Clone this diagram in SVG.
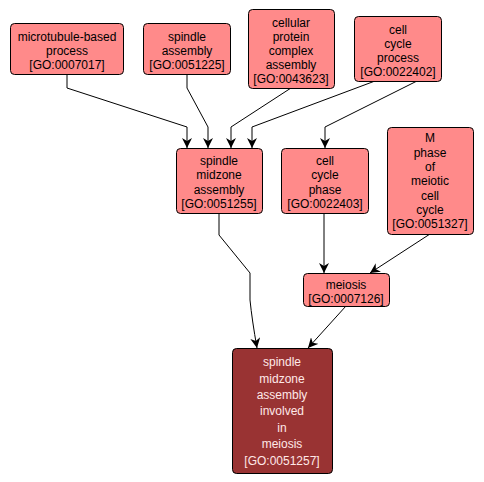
<svg xmlns="http://www.w3.org/2000/svg" width="484" height="482" viewBox="0 0 484 482">
<defs>
<style>
.n rect{fill:#ff8a8a;stroke:#000;stroke-width:1}
.n text{font-family:"Liberation Sans",Arial,sans-serif;font-size:12px;fill:#000;text-anchor:middle}
.f rect{fill:#993333;stroke:#000;stroke-width:1}
.f text{font-family:"Liberation Sans",Arial,sans-serif;font-size:12px;fill:#ffe8e8;text-anchor:middle}
.e path{fill:none;stroke:#000;stroke-width:1;marker-end:url(#a)}
</style>
<marker id="a" viewBox="0 0 10 10" refX="10" refY="5" markerWidth="10" markerHeight="10" markerUnits="userSpaceOnUse" orient="auto">
<path d="M0,0 L10,5 L0,10 L3,5 Z" fill="#000"/>
</marker>
</defs>
<rect width="484" height="482" fill="#fff"/>
<g id="connectors" class="e">
<path d="M67,74 V88 L187,127 V148"/>
<path d="M187,74 V88 L208,127 V148"/>
<path d="M291,88 L231,127 V148"/>
<path d="M375,81 L252,127 V148"/>
<path d="M417,81 L325,127 V148"/>
<path d="M324,213 V273"/>
<path d="M430,234 L370,273"/>
<path d="M219,213 V235 L250,273 V300 Q252,320 257,348"/>
<path d="M346,306 L308,348"/>
</g>
<g id="n0007017" class="n"><rect x="10.5" y="23.5" width="113" height="51" rx="4"/><text x="67" y="41">microtubule-based</text><text x="67" y="55">process</text><text x="67" y="69">[GO:0007017]</text></g>
<g id="n0051225" class="n"><rect x="143.5" y="23.5" width="87" height="51" rx="4"/><text x="187" y="41">spindle</text><text x="187" y="55">assembly</text><text x="187" y="69">[GO:0051225]</text></g>
<g id="n0043623" class="n"><rect x="248.5" y="9.5" width="86" height="79" rx="4"/><text x="291" y="27">cellular</text><text x="291" y="41">protein</text><text x="291" y="55">complex</text><text x="291" y="69">assembly</text><text x="291" y="83">[GO:0043623]</text></g>
<g id="n0022402" class="n"><rect x="354.5" y="16.5" width="87" height="65" rx="4"/><text x="398" y="34">cell</text><text x="398" y="48">cycle</text><text x="398" y="62">process</text><text x="398" y="76">[GO:0022402]</text></g>
<g id="n0051255" class="n"><rect x="176.5" y="148.5" width="86" height="65" rx="4"/><text x="219" y="165">spindle</text><text x="219" y="179">midzone</text><text x="219" y="194">assembly</text><text x="219" y="208">[GO:0051255]</text></g>
<g id="n0022403" class="n"><rect x="281.5" y="148.5" width="87" height="65" rx="4"/><text x="325" y="165">cell</text><text x="325" y="179">cycle</text><text x="325" y="194">phase</text><text x="325" y="208">[GO:0022403]</text></g>
<g id="n0051327" class="n"><rect x="387.5" y="127.5" width="86" height="107" rx="4"/><text x="430" y="142">M</text><text x="430" y="157">phase</text><text x="430" y="171">of</text><text x="430" y="185">meiotic</text><text x="430" y="200">cell</text><text x="430" y="214">cycle</text><text x="430" y="228">[GO:0051327]</text></g>
<g id="n0007126" class="n"><rect x="303.5" y="273.5" width="86" height="33" rx="4"/><text x="346" y="289">meiosis</text><text x="346" y="303">[GO:0007126]</text></g>
<g id="n0051257" class="f"><rect x="232.5" y="348.5" width="100" height="125" rx="4"/><text x="282" y="366">spindle</text><text x="282" y="383">midzone</text><text x="282" y="399">assembly</text><text x="282" y="415">involved</text><text x="282" y="432">in</text><text x="282" y="448">meiosis</text><text x="282" y="465">[GO:0051257]</text></g>
</svg>
